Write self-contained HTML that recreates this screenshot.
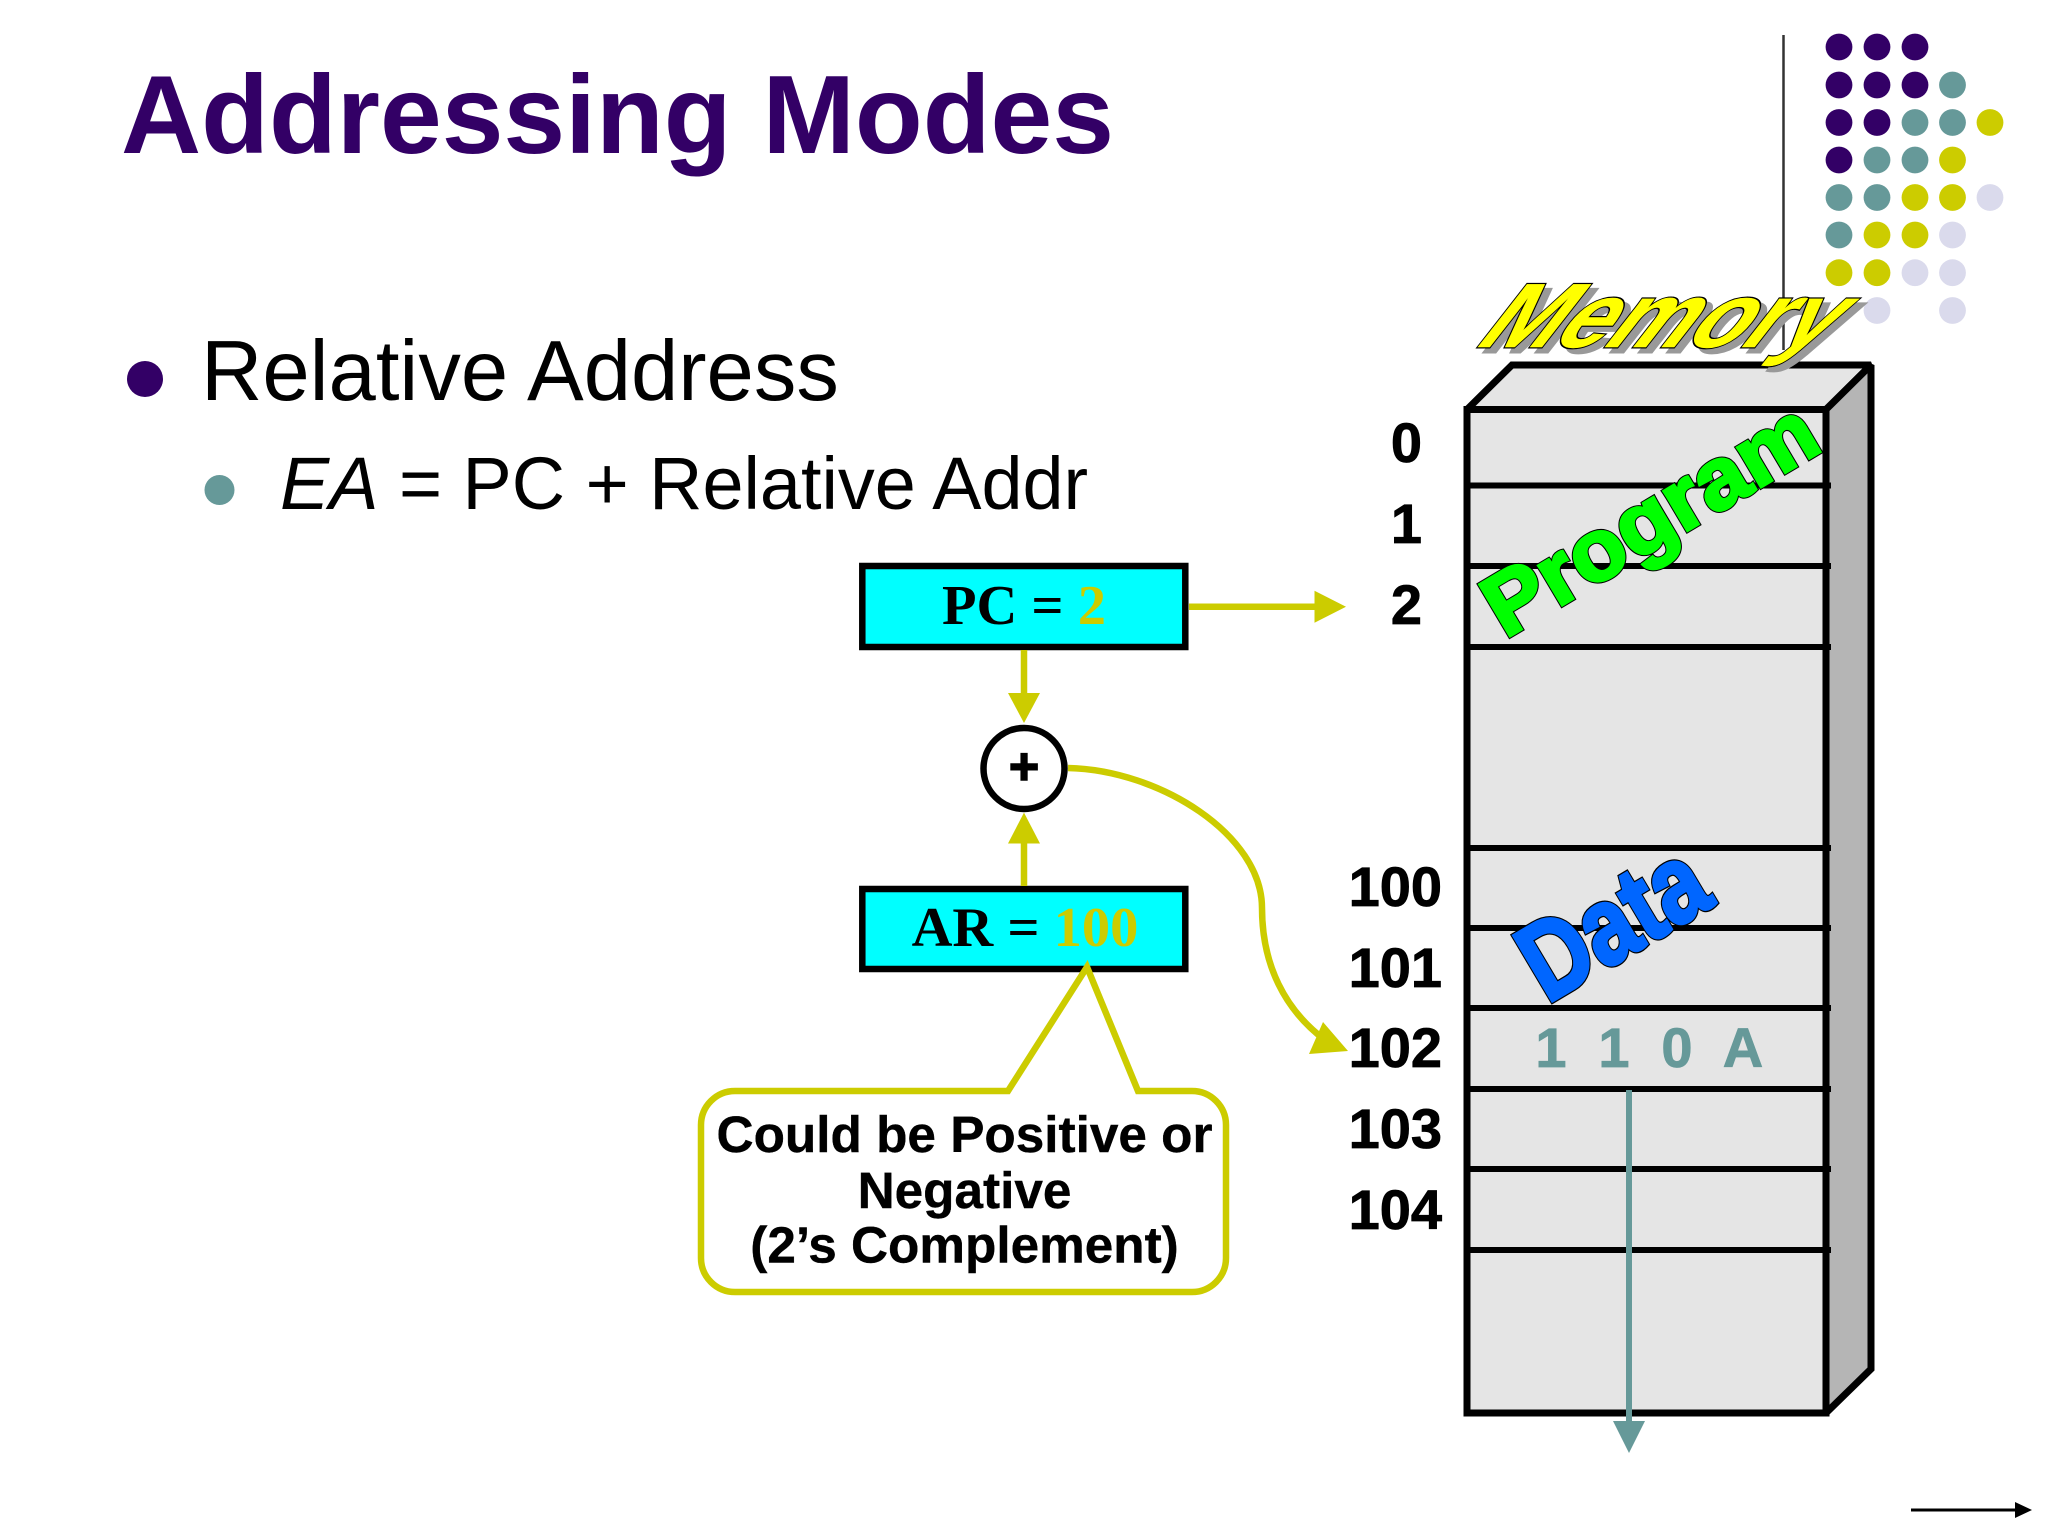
<!DOCTYPE html>
<html lang="en">
<head>
<meta charset="utf-8">
<title>Addressing Modes</title>
<style>
html,body{margin:0;padding:0;background:#fff;width:2048px;height:1536px;overflow:hidden}
svg{display:block}
text{font-family:"Liberation Sans",Arial,sans-serif}
.b{font-weight:bold}
.s{font-family:"Liberation Serif","Times New Roman",serif;font-weight:bold;font-size:56.500px;stroke:none}
.n{font-weight:bold;font-size:56px;fill:#000;stroke:#000;stroke-width:.8px}
.t{font-weight:bold;font-size:56px;fill:#669999;stroke:#669999;stroke-width:.8px;text-anchor:middle}
.c{font-weight:bold;font-size:51.300px;fill:#000;stroke:#000;stroke-width:.4px;text-anchor:middle}
</style>
</head>
<body>
<svg xmlns="http://www.w3.org/2000/svg" width="2048" height="1536" viewBox="0 0 2048 1536">
<rect width="2048" height="1536" fill="#fff"/>

<!-- decoration -->
<line x1="1783.5" y1="35" x2="1783.5" y2="350" stroke="#333" stroke-width="2.500"/>
<g fill="#330066">
<circle cx="1839" cy="47" r="13.4"/><circle cx="1877" cy="47" r="13.4"/><circle cx="1915" cy="47" r="13.4"/>
<circle cx="1839" cy="85" r="13.4"/><circle cx="1877" cy="85" r="13.4"/><circle cx="1915" cy="85" r="13.4"/>
<circle cx="1839" cy="122.5" r="13.4"/><circle cx="1877" cy="122.5" r="13.4"/>
<circle cx="1839" cy="160" r="13.4"/>
</g>
<g fill="#669999">
<circle cx="1952.5" cy="85" r="13.4"/>
<circle cx="1915" cy="122.5" r="13.4"/><circle cx="1952.5" cy="122.5" r="13.4"/>
<circle cx="1877" cy="160" r="13.4"/><circle cx="1915" cy="160" r="13.4"/>
<circle cx="1839" cy="197.5" r="13.4"/><circle cx="1877" cy="197.5" r="13.4"/>
<circle cx="1839" cy="235" r="13.4"/>
</g>
<g fill="#CCCC00">
<circle cx="1990" cy="122.5" r="13.4"/>
<circle cx="1952.5" cy="160" r="13.4"/>
<circle cx="1915" cy="197.5" r="13.4"/><circle cx="1952.5" cy="197.5" r="13.4"/>
<circle cx="1877" cy="235" r="13.4"/><circle cx="1915" cy="235" r="13.4"/>
<circle cx="1839" cy="272.7" r="13.4"/><circle cx="1877" cy="272.7" r="13.4"/>
</g>
<g fill="#DADAEC">
<circle cx="1990" cy="197.5" r="13.4"/>
<circle cx="1952.5" cy="235" r="13.4"/>
<circle cx="1915" cy="272.7" r="13.4"/><circle cx="1952.5" cy="272.7" r="13.4"/>
<circle cx="1877" cy="310.5" r="13.4"/><circle cx="1952.5" cy="310.5" r="13.4"/>
</g>

<!-- title and bullets -->
<text x="121" y="153" class="b" font-size="111" fill="#330066">Addressing Modes</text>
<circle cx="145" cy="379" r="18" fill="#330066"/>
<text x="201" y="400" font-size="85" fill="#000">Relative Address</text>
<circle cx="219.500" cy="490" r="15" fill="#669999"/>
<text x="280" y="509" font-size="73.800" fill="#000"><tspan font-style="italic">EA</tspan> = PC + Relative Addr</text>

<!-- memory block -->
<g stroke="#000" stroke-width="7" stroke-linejoin="miter" stroke-miterlimit="2">
<polygon points="1467,409.500 1512,365 1871,365 1826,409.500" fill="#E5E5E5"/>
<polygon points="1826,409.500 1871,365 1871,1369 1826,1413" fill="#B5B5B5"/>
<rect x="1467" y="409.500" width="359" height="1003.500" fill="#E5E5E5"/>
<g stroke-width="6">
<line x1="1467" y1="485.500" x2="1831" y2="485.500"/>
<line x1="1467" y1="566" x2="1831" y2="566"/>
<line x1="1467" y1="647" x2="1831" y2="647"/>
<line x1="1467" y1="848" x2="1831" y2="848"/>
<line x1="1467" y1="928" x2="1831" y2="928"/>
<line x1="1467" y1="1008" x2="1831" y2="1008"/>
<line x1="1467" y1="1089" x2="1831" y2="1089"/>
<line x1="1467" y1="1169" x2="1831" y2="1169"/>
<line x1="1467" y1="1250" x2="1831" y2="1250"/>
</g>
</g>

<!-- address labels -->
<g text-anchor="end">
<text class="n" x="1422" y="462">0</text>
<text class="n" x="1422" y="543">1</text>
<text class="n" x="1422" y="624">2</text>
<text class="n" x="1442" y="906">100</text>
<text class="n" x="1442" y="987">101</text>
<text class="n" x="1442" y="1067">102</text>
<text class="n" x="1442" y="1148">103</text>
<text class="n" x="1442" y="1229">104</text>
</g>

<!-- cell contents -->
<text class="t" x="1551" y="1067">1</text>
<text class="t" x="1614" y="1067">1</text>
<text class="t" x="1677" y="1067">0</text>
<text class="t" x="1743" y="1067">A</text>

<!-- teal arrow -->
<line x1="1629" y1="1090" x2="1629" y2="1424" stroke="#669999" stroke-width="6"/>
<polygon points="1613,1421 1645,1421 1629,1453" fill="#669999"/>

<!-- wordart -->
<g font-weight="bold" font-size="91">
<text transform="translate(1478,352) skewX(-38)" fill="#999" stroke="#999" stroke-width="3" textLength="350" lengthAdjust="spacingAndGlyphs">Memory</text>
<text transform="translate(1472,347) skewX(-38)" fill="#000" stroke="#000" stroke-width="3" textLength="350" lengthAdjust="spacingAndGlyphs">Memory</text>
<text transform="translate(1472,347) skewX(-38)" fill="#FFFF00" stroke="#FFFF00" stroke-width=".6" textLength="350" lengthAdjust="spacingAndGlyphs">Memory</text>
<g font-size="87">
<text transform="translate(1505,639) rotate(-30.700)" fill="#000" stroke="#000" stroke-width="5" textLength="372" lengthAdjust="spacingAndGlyphs">Program</text>
<text transform="translate(1505,639) rotate(-30.700)" fill="#00FF00" stroke="#00FF00" stroke-width="3" textLength="372" lengthAdjust="spacingAndGlyphs">Program</text>
</g>
<g font-size="110">
<text transform="translate(1547,1004) rotate(-30.700)" fill="#000" stroke="#000" stroke-width="6" textLength="197" lengthAdjust="spacingAndGlyphs">Data</text>
<text transform="translate(1547,1004) rotate(-30.700)" fill="#0066FF" stroke="#0066FF" stroke-width="3.500" textLength="197" lengthAdjust="spacingAndGlyphs">Data</text>
</g>
</g>

<!-- registers -->
<rect x="862.300" y="566" width="323" height="81" fill="#00FFFF" stroke="#000" stroke-width="6.500"/>
<text class="s" x="1024" y="624" text-anchor="middle" fill="#000">PC = <tspan fill="#CCCC00">2</tspan></text>
<rect x="862.300" y="889" width="323" height="80" fill="#00FFFF" stroke="#000" stroke-width="6.500"/>
<text class="s" x="1025" y="946" text-anchor="middle" fill="#000">AR = <tspan fill="#CCCC00">100</tspan></text>

<!-- yellow arrows -->
<g stroke="#CCCC00" stroke-width="6.500" fill="none">
<line x1="1189" y1="606.700" x2="1318" y2="606.700"/>
<line x1="1024" y1="650" x2="1024" y2="696"/>
<line x1="1024" y1="840" x2="1024" y2="886"/>
<path d="M1068,768 C1160,770 1262,835 1262,908 C1262,965 1285,1010 1325,1040"/>
</g>
<g fill="#CCCC00">
<polygon points="1314.500,590.700 1314.500,622.700 1346,606.700"/>
<polygon points="1008,693 1040,693 1024,723"/>
<polygon points="1008,843.500 1040,843.500 1024,812.600"/>
<polygon points="1323,1022 1309,1054 1348,1051"/>
</g>

<!-- adder -->
<circle cx="1024" cy="768.500" r="40.500" fill="#fff" stroke="#000" stroke-width="6.500"/>
<text x="1024" y="784" class="b" font-size="52" text-anchor="middle" fill="#000" stroke="#000" stroke-width="1.500">+</text>

<!-- callout -->
<path d="M735,1091 L1008,1091 L1087,967 L1138,1091 L1192,1091 A34,34 0 0 1 1226,1125 L1226,1258 A34,34 0 0 1 1192,1292 L735,1292 A34,34 0 0 1 701,1258 L701,1125 A34,34 0 0 1 735,1091 Z" fill="#fff" stroke="#CCCC00" stroke-width="6.500"/>
<text class="c" x="964.500" y="1152">Could be Positive or</text>
<text class="c" x="964.500" y="1208">Negative</text>
<text class="c" x="964.500" y="1262.500">(2’s Complement)</text>

<!-- next arrow -->
<line x1="1911" y1="1510" x2="2020" y2="1510" stroke="#000" stroke-width="3"/>
<polygon points="2015,1502 2015,1518 2032,1510" fill="#000"/>
</svg>
</body>
</html>
